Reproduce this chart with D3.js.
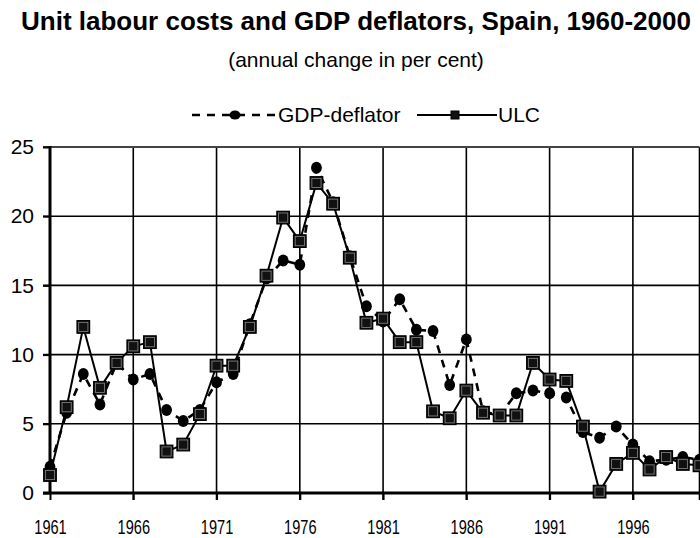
<!DOCTYPE html>
<html lang="en">
<head>
    <meta charset="utf-8">
    <title>Unit labour costs and GDP deflators, Spain</title>
    <script src="https://d3js.org/d3.v7.js"></script>
    <style>
        body { margin: 0; background: #fff; }
        svg { display: block; font-family: "Liberation Sans", Arial, sans-serif; }
        .grid line { stroke: #000; stroke-width: 1.6px; }
    </style>
</head>
<body>
<svg width="700" height="538"></svg>
<script type="text/javascript">
    // annual change in per cent
    let years = d3.range(1961, 2001);
    let gdpDeflator = [1.9, 5.8, 8.6, 6.4, 9.4, 8.2, 8.6, 6.0, 5.2, 6.0,
        8.0, 8.6, 12.2, 15.5, 16.8, 16.5, 23.5, 21.0, 17.1, 13.5,
        12.4, 14.0, 11.8, 11.7, 7.8, 11.1, 5.9, 5.6, 7.2, 7.4,
        7.2, 6.9, 4.4, 4.0, 4.8, 3.5, 2.3, 2.4, 2.6, 2.4];
    let ulc = [1.3, 6.2, 12.0, 7.6, 9.4, 10.6, 10.9, 3.0, 3.5, 5.7,
        9.2, 9.2, 12.0, 15.7, 19.9, 18.2, 22.4, 20.9, 17.0, 12.3,
        12.6, 10.9, 10.9, 5.9, 5.4, 7.4, 5.8, 5.6, 5.6, 9.4,
        8.2, 8.1, 4.8, 0.1, 2.1, 2.9, 1.7, 2.6, 2.1, 2.0];
    let yTicks = [0, 5, 10, 15, 20, 25];
    let xTicks = [1961, 1966, 1971, 1976, 1981, 1986, 1991, 1996];

    let svg = d3.select("svg");
    let x = d3.scaleLinear().domain([1961, 2000]).range([50, 699.5]);
    let y = d3.scaleLinear().domain([0, 25]).range([493, 147]);

    // titles
    svg.append("text").attr("x", 356).attr("y", 30)
        .attr("text-anchor", "middle").attr("font-weight", "bold").attr("font-size", 26)
        .text("Unit labour costs and GDP deflators, Spain, 1960-2000");
    svg.append("text").attr("x", 356).attr("y", 67)
        .attr("text-anchor", "middle").attr("font-size", 21)
        .text("(annual change in per cent)");

    // grid
    let grid = svg.append("g").attr("class", "grid");
    grid.selectAll("line.h").data(yTicks.filter(d => d > 0 && d < 25)).join("line")
        .attr("class", "h")
        .attr("x1", 43).attr("x2", x(2000))
        .attr("y1", d => y(d)).attr("y2", d => y(d));
    grid.selectAll("line.v").data(xTicks.slice(1).concat([2000])).join("line")
        .attr("class", "v")
        .attr("x1", d => x(d)).attr("x2", d => x(d))
        .attr("y1", y(25)).attr("y2", y(0) + 7);
    // top frame
    grid.append("line").attr("x1", 43).attr("x2", x(2000))
        .attr("y1", y(25)).attr("y2", y(25)).style("stroke", "#444").style("stroke-width", 2.2);

    // axes
    let yAxis = d3.axisLeft(y).tickValues(yTicks).tickSize(7).tickPadding(9);
    let gy = svg.append("g").attr("transform", `translate(${x(1961)},0)`).call(yAxis);
    gy.select(".domain").remove();
    gy.selectAll(".tick line").attr("stroke-width", 2);
    gy.selectAll("text").attr("font-size", 21).attr("font-family", "Liberation Sans, Arial, sans-serif")
        .attr("fill", "#000");

    let xAxis = d3.axisBottom(x).tickValues(xTicks).tickFormat(d3.format("d")).tickSize(7).tickPadding(20);
    let gx = svg.append("g").attr("transform", `translate(0,${y(0)})`).call(xAxis);
    gx.select(".domain").remove();
    gx.selectAll(".tick line").attr("stroke-width", 2);
    // condensed year labels
    gx.selectAll("text").attr("font-size", 20).attr("font-family", "Liberation Sans, Arial, sans-serif")
        .attr("fill", "#000").attr("transform", "scale(0.73,1)");

    svg.append("line").attr("x1", x(1961)).attr("x2", x(1961))
        .attr("y1", y(25) - 1).attr("y2", y(0) + 1).attr("stroke", "#000").attr("stroke-width", 3);
    svg.append("line").attr("x1", 43).attr("x2", x(2000) + 1)
        .attr("y1", y(0)).attr("y2", y(0)).attr("stroke", "#000").attr("stroke-width", 3);

    let line = d3.line().x((d, i) => x(years[i])).y(d => y(d));

    // GDP deflator: dashed with circles
    svg.append("path").datum(gdpDeflator).attr("d", line)
        .attr("fill", "none").attr("stroke", "#000").attr("stroke-width", 2.6)
        .attr("stroke-dasharray", "8,7");
    svg.append("g").selectAll("ellipse").data(gdpDeflator).join("ellipse")
        .attr("cx", (d, i) => x(years[i])).attr("cy", d => y(d))
        .attr("rx", 5.4).attr("ry", 6).attr("fill", "#000");

    // ULC: solid with squares
    svg.append("path").datum(ulc).attr("d", line)
        .attr("fill", "none").attr("stroke", "#000").attr("stroke-width", 2);
    svg.append("g").selectAll("rect").data(ulc).join("rect")
        .attr("x", (d, i) => x(years[i]) - 6.3).attr("y", d => y(d) - 6.3)
        .attr("width", 12.6).attr("height", 12.6)
        .attr("fill", "#111").attr("stroke", "#000").attr("stroke-width", 1.2);
    svg.append("g").selectAll("rect").data(ulc).join("rect")
        .attr("x", (d, i) => x(years[i]) - 4.6).attr("y", d => y(d) - 4.6)
        .attr("width", 9.2).attr("height", 9.2)
        .attr("fill", "none").attr("stroke", "#888").attr("stroke-width", 0.8);

    // legend
    let ly = 115;
    let leg = svg.append("g");
    leg.append("line").attr("x1", 192).attr("x2", 276).attr("y1", ly).attr("y2", ly)
        .attr("stroke", "#000").attr("stroke-width", 2.6).attr("stroke-dasharray", "8,7");
    leg.append("ellipse").attr("cx", 235).attr("cy", ly).attr("rx", 5.5).attr("ry", 4.5).attr("fill", "#000");
    leg.append("text").attr("x", 278).attr("y", ly).attr("dy", "0.35em").attr("font-size", 21)
        .text("GDP-deflator");
    leg.append("line").attr("x1", 417).attr("x2", 497).attr("y1", ly).attr("y2", ly)
        .attr("stroke", "#000").attr("stroke-width", 2);
    leg.append("rect").attr("x", 451).attr("y", ly - 4).attr("width", 8).attr("height", 8)
        .attr("fill", "#111").attr("stroke", "#000");
    leg.append("text").attr("x", 498).attr("y", ly).attr("dy", "0.35em").attr("font-size", 21)
        .text("ULC");
</script>
</body>
</html>
